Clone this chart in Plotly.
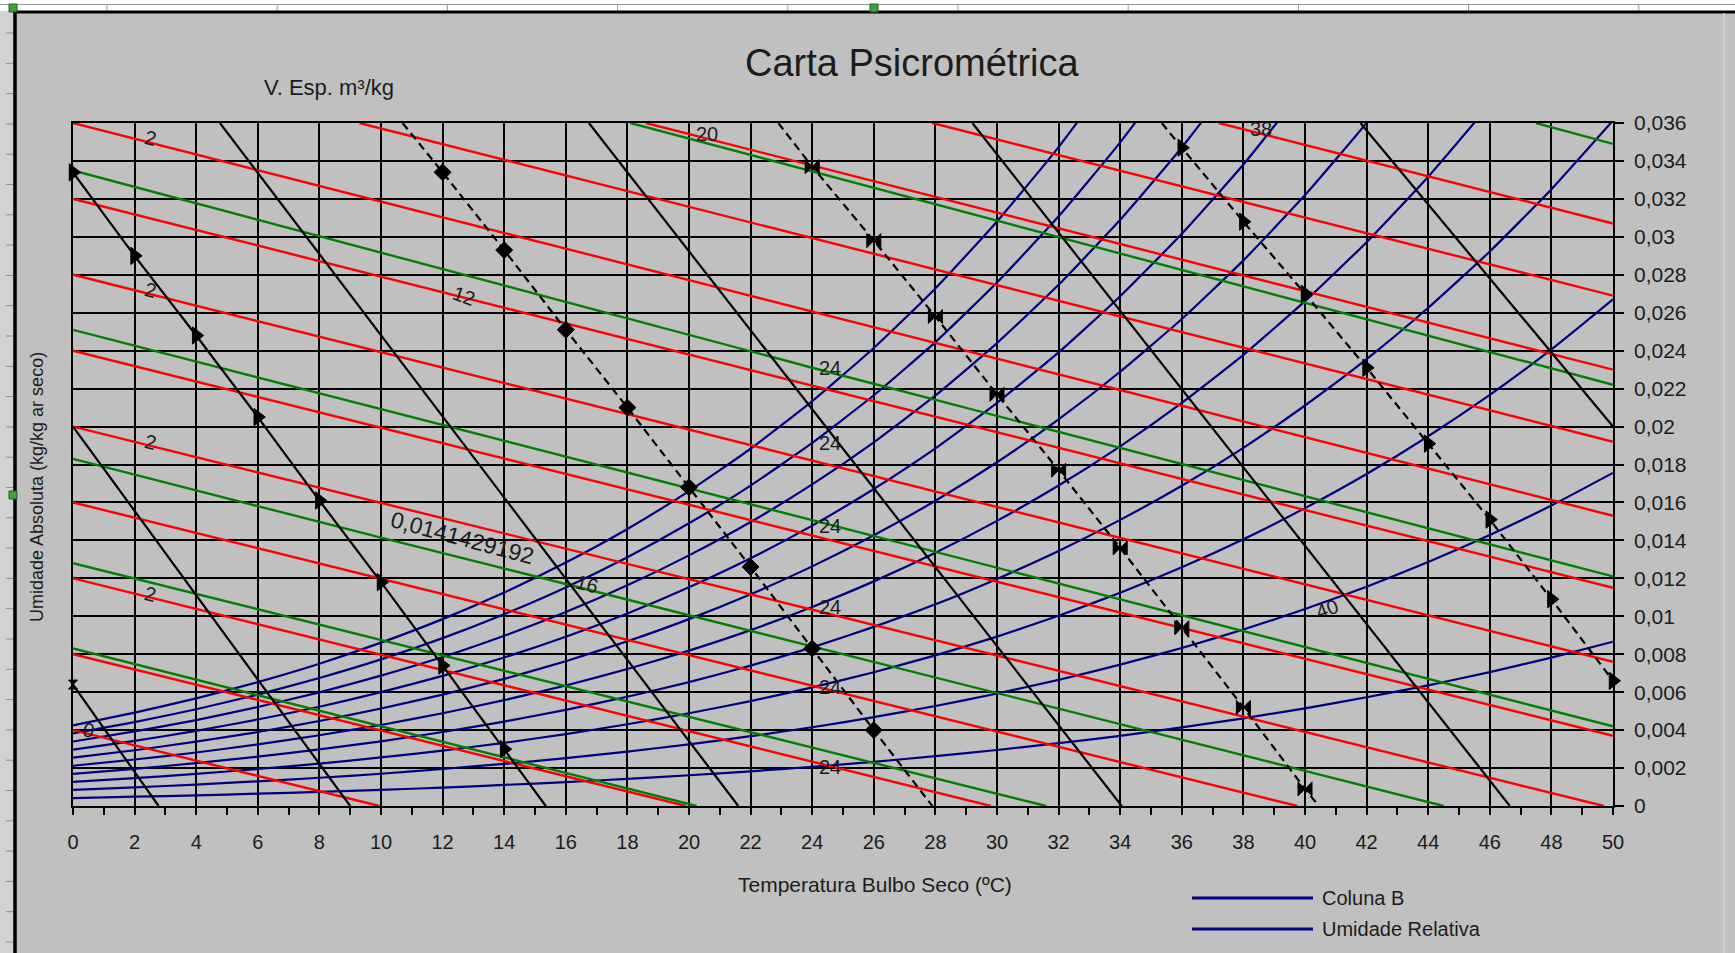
import plotly.graph_objects as go

# ---------------------------------------------------------------------------
# Psychrometric chart data (P = 90 kPa)
# ---------------------------------------------------------------------------
temp_c = [0, 2, 4, 6, 8, 10, 12, 14, 16, 18, 20, 22, 24, 26, 28, 30,
          32, 34, 36, 38, 40, 42, 44, 46, 48, 50]

# Absolute humidity (kg/kg dry air) along each relative-humidity curve
rh10_w = [0.00042, 0.00049, 0.00056, 0.00065, 0.00074, 0.00085, 0.00097, 0.00111, 0.00126,
          0.00143, 0.00162, 0.00183, 0.00207, 0.00233, 0.00263, 0.00295, 0.00331, 0.00370,
          0.00414, 0.00462, 0.00515, 0.00573, 0.00636, 0.00706, 0.00782, 0.00866]
rh20_w = [0.00085, 0.00098, 0.00113, 0.00130, 0.00149, 0.00170, 0.00195, 0.00222, 0.00252,
          0.00287, 0.00325, 0.00368, 0.00415, 0.00468, 0.00527, 0.00593, 0.00665, 0.00745,
          0.00833, 0.00930, 0.01038, 0.01156, 0.01286, 0.01428, 0.01584, 0.01756]
rh30_w = [0.00127, 0.00147, 0.00169, 0.00195, 0.00223, 0.00256, 0.00292, 0.00333, 0.00379,
          0.00431, 0.00489, 0.00553, 0.00625, 0.00705, 0.00794, 0.00893, 0.01003, 0.01124,
          0.01258, 0.01406, 0.01570, 0.01750, 0.01949, 0.02167, 0.02407, 0.02671]
rh40_w = [0.00169, 0.00196, 0.00226, 0.00260, 0.00298, 0.00341, 0.00390, 0.00445, 0.00507,
          0.00576, 0.00653, 0.00740, 0.00836, 0.00944, 0.01063, 0.01197, 0.01344, 0.01508,
          0.01688, 0.01888, 0.02111, 0.02355, 0.02626, 0.02923, 0.03251, 0.03613]
rh50_w = [0.00212, 0.00245, 0.00282, 0.00325, 0.00373, 0.00427, 0.00489, 0.00558, 0.00635,
          0.00722, 0.00819, 0.00927, 0.01049, 0.01184, 0.01335, 0.01503, 0.01689, 0.01896,
          0.02125, 0.02378, 0.02661, 0.02972, 0.03317, 0.03698]
rh60_w = [0.00255, 0.00294, 0.00339, 0.00390, 0.00448, 0.00514, 0.00587, 0.00670, 0.00763,
          0.00868, 0.00985, 0.01116, 0.01263, 0.01427, 0.01609, 0.01812, 0.02038, 0.02289,
          0.02567, 0.02876, 0.03220, 0.03601, 0.04024]
rh70_w = [0.00297, 0.00343, 0.00396, 0.00456, 0.00523, 0.00600, 0.00686, 0.00783, 0.00892,
          0.01015, 0.01153, 0.01306, 0.01478, 0.01671, 0.01885, 0.02125, 0.02391, 0.02687,
          0.03016, 0.03381, 0.03790]
rh80_w = [0.00340, 0.00393, 0.00453, 0.00522, 0.00599, 0.00687, 0.00785, 0.00897, 0.01022,
          0.01163, 0.01321, 0.01497, 0.01695, 0.01917, 0.02164, 0.02440, 0.02747, 0.03090,
          0.03471, 0.03895]
rh90_w = [0.00383, 0.00442, 0.00510, 0.00587, 0.00675, 0.00773, 0.00885, 0.01011, 0.01152,
          0.01311, 0.01490, 0.01689, 0.01914, 0.02165, 0.02445, 0.02759, 0.03108, 0.03498,
          0.03932]
rh100_w = [0.00425, 0.00492, 0.00567, 0.00653, 0.00750, 0.00861, 0.00985, 0.01125, 0.01283,
           0.01460, 0.01660, 0.01883, 0.02134, 0.02414, 0.02728, 0.03081, 0.03473, 0.03911]
rh_series = [("Coluna B", rh10_w), ("Umidade Relativa", rh20_w), ("UR 30%", rh30_w),
             ("UR 40%", rh40_w), ("UR 50%", rh50_w), ("UR 60%", rh60_w),
             ("UR 70%", rh70_w), ("UR 80%", rh80_w), ("UR 90%", rh90_w),
             ("UR 100%", rh100_w)]

# Enthalpy lines (kJ/kg): start and end points
enth_h = [10, 20, 30, 40, 50, 60, 70, 80, 90, 100, 110, 120, 130]
enth_x0 = [0, 0, 0, 0, 0, 0, 0, 0, 0, 9.3, 18.6, 27.9, 37.2]
enth_w0 = [0.004, 0.008, 0.012, 0.016, 0.020, 0.024, 0.028, 0.032, 0.036,
           0.036, 0.036, 0.036, 0.036]
enth_x1 = [9.95, 19.9, 29.8, 39.75, 49.7, 50, 50, 50, 50, 50, 50, 50, 50]
enth_w1 = [0, 0, 0, 0, 0, 0.0037, 0.0076, 0.0115, 0.0153, 0.0192, 0.0230, 0.0269, 0.0307]

# Wet-bulb lines (°C)
wb_t = [5, 10, 15, 20, 25, 30, 35]
wb_x = [[0, 20.25], [0, 31.6], [0, 10, 16, 44.5], [0, 50], [0, 24, 50], [18.1, 50], [47.5, 50]]
wb_w = [[0.0083, 0], [0.0128, 0], [0.0183, 0.0141429192, 0.0117, 0], [0.0251, 0.0042],
        [0.0335, 0.0231, 0.0121], [0.036, 0.0222], [0.036, 0.0349]]

# Specific-volume lines (m³/kg)
vol_088_x = [0, 2.78]
vol_088_w = [0.0064, 0]
vol_090_x = [0, 9.0]
vol_090_w = [0.0200, 0]
vol_092_x = [0, 2, 4, 6, 8, 10, 12, 14, 15.35]
vol_092_w = [0.0334, 0.0290, 0.0248, 0.0205, 0.0161, 0.0118, 0.0074, 0.0030, 0]
vol_094_x = [4.77, 21.6]
vol_094_w = [0.036, 0]
vol_096_x = [10.7, 12, 14, 16, 18, 20, 22, 24, 26, 27.9]
vol_096_w = [0.036, 0.0334, 0.0293, 0.0251, 0.0210, 0.0168, 0.0126, 0.0083, 0.0040, 0]
vol_098_x = [16.75, 34.05]
vol_098_w = [0.036, 0]
vol_100_x = [22.9, 24, 26, 28, 30, 32, 34, 36, 38, 40, 40.45]
vol_100_w = [0.036, 0.0337, 0.0298, 0.0258, 0.0217, 0.0177, 0.0136, 0.0094, 0.0052, 0.0009, 0]
vol_102_x = [29.2, 46.65]
vol_102_w = [0.036, 0]
vol_104_x = [35.35, 36, 38, 40, 42, 44, 46, 48, 50]
vol_104_w = [0.036, 0.0347, 0.0308, 0.0270, 0.0231, 0.0191, 0.0151, 0.0109, 0.0066]
vol_106_x = [41.8, 50]
vol_106_w = [0.036, 0.0200]

# Data labels shown on the lines
lbl_text = ["0", "2", "2", "2", "2", "12", "20", "38", "0,0141429192", "16",
            "24", "24", "24", "24", "24", "24", "40"]
lbl_x = [0, 2, 2, 2, 2, 12, 20, 38, 10, 16, 24, 24, 24, 24, 24, 24, 40]
lbl_y = [0.0040, 0.0352, 0.0272, 0.0192, 0.0112, 0.0269, 0.0354, 0.0357, 0.0141429192,
         0.0117, 0.0231, 0.01914, 0.01478, 0.01049, 0.00625, 0.00207, 0.01038]
lbl_angle = [14, 14, 14, 14, 14, 20, 0, 0, 15, 15, 0, 0, 0, 0, 0, 0, -20]

y_tick_vals = [0, 0.002, 0.004, 0.006, 0.008, 0.010, 0.012, 0.014, 0.016, 0.018,
               0.020, 0.022, 0.024, 0.026, 0.028, 0.030, 0.032, 0.034, 0.036]
y_tick_text = ["0", "0,002", "0,004", "0,006", "0,008", "0,01", "0,012", "0,014", "0,016",
               "0,018", "0,02", "0,022", "0,024", "0,026", "0,028", "0,03", "0,032",
               "0,034", "0,036"]

legend_items = ["Coluna B", "Umidade Relativa"]

# ---------------------------------------------------------------------------
W, H = 1735, 953
PL, PR, PT, PB = 73, 1613, 123, 806
FONT = "Liberation Sans, Arial, sans-serif"
NAVY, RED, GREEN, GRAY = "#000080", "#FF0000", "#008000", "#C0C0C0"
TXT = "#1c1c1c"


def px(x):
    return (x - PL) / (PR - PL)


def py(y):
    return (PB - y) / (PB - PT)


fig = go.Figure()

for name, w in rh_series:
    fig.add_trace(go.Scatter(x=temp_c[:len(w)], y=w, mode="lines", name=name,
                             line=dict(color=NAVY, width=2.2, shape="spline", smoothing=0.5),
                             showlegend=False, hoverinfo="skip"))

for i in range(len(enth_h)):
    fig.add_trace(go.Scatter(x=[enth_x0[i], enth_x1[i]], y=[enth_w0[i], enth_w1[i]],
                             mode="lines", line=dict(color=RED, width=2.4),
                             name=f"h {enth_h[i]}", showlegend=False, hoverinfo="skip"))

for i in range(len(wb_t)):
    fig.add_trace(go.Scatter(x=wb_x[i], y=wb_w[i], mode="lines",
                             line=dict(color=GREEN, width=2.4),
                             name=f"TBU {wb_t[i]}", showlegend=False, hoverinfo="skip"))

solid_vol = [(vol_088_x, vol_088_w), (vol_090_x, vol_090_w), (vol_092_x, vol_092_w),
             (vol_094_x, vol_094_w), (vol_098_x, vol_098_w), (vol_102_x, vol_102_w),
             (vol_106_x, vol_106_w)]
for vx, vw in solid_vol:
    fig.add_trace(go.Scatter(x=vx, y=vw, mode="lines", line=dict(color="black", width=2.2),
                             showlegend=False, hoverinfo="skip"))
for vx, vw in [(vol_096_x, vol_096_w), (vol_100_x, vol_100_w), (vol_104_x, vol_104_w)]:
    fig.add_trace(go.Scatter(x=vx, y=vw, mode="lines",
                             line=dict(color="black", width=2.2, dash="8px,5px"),
                             showlegend=False, hoverinfo="skip"))

# markers sitting on the specific-volume lines
marker_sets = [
    (vol_088_x[:1], vol_088_w[:1], "hourglass", 9),
    (vol_092_x[:-1], vol_092_w[:-1], "triangle-right", 15),
    (vol_096_x[1:-1], vol_096_w[1:-1], "diamond", 13),
    (vol_100_x[1:-1], vol_100_w[1:-1], "bowtie", 14),
    (vol_104_x[1:], vol_104_w[1:], "triangle-right", 15),
]
for mx, mw, sym, size in marker_sets:
    fig.add_trace(go.Scatter(x=mx, y=mw, mode="markers", cliponaxis=False,
                             marker=dict(symbol=sym, size=size, color="black",
                                         line=dict(color="black", width=1)),
                             showlegend=False, hoverinfo="skip"))

for t, x, y, a in zip(lbl_text, lbl_x, lbl_y, lbl_angle):
    fig.add_annotation(x=x, y=y, text=t, textangle=a, xanchor="left", yanchor="middle",
                       xshift=5, showarrow=False,
                       font=dict(family=FONT, size=23 if len(t) > 4 else 20, color=TXT))


def label(x, y, text, size, angle=0, xanchor="center"):
    fig.add_annotation(x=px(x), y=py(y), xref="paper", yref="paper", text=text,
                       textangle=angle, xanchor=xanchor, yanchor="middle", showarrow=False,
                       font=dict(family=FONT, size=size, color=TXT))


label(912, 63, "Carta Psicrométrica", 38)
label(329, 87, "V. Esp. m³/kg", 22)
label(875, 884, "Temperatura Bulbo Seco (ºC)", 21)
label(37, 487, "Umidade Absoluta (kg/kg ar seco)", 18, angle=-90)

shapes = []
# legend
for k, name in enumerate(legend_items):
    ly = 898 + 31 * k
    shapes.append(dict(type="line", xref="paper", yref="paper", x0=px(1192), x1=px(1313),
                       y0=py(ly), y1=py(ly), line=dict(color=NAVY, width=3)))
    label(1320, ly, name, 20, xanchor="left")

# worksheet surroundings
shapes.append(dict(type="rect", xref="paper", yref="paper", x0=px(0), x1=px(W),
                   y0=py(0), y1=py(11), fillcolor="white", line=dict(width=0), layer="above"))
shapes.append(dict(type="line", xref="paper", yref="paper", x0=px(0), x1=px(W),
                   y0=py(4.5), y1=py(4.5), line=dict(color="#9a9a9a", width=1)))
cx = 107.0
while cx < W:
    shapes.append(dict(type="line", xref="paper", yref="paper", x0=px(cx), x1=px(cx),
                       y0=py(4.5), y1=py(11), line=dict(color="#9a9a9a", width=1)))
    cx += 170.2
shapes.append(dict(type="rect", xref="paper", yref="paper", x0=px(0), x1=px(13),
                   y0=py(11), y1=py(H), fillcolor="#d2d2d2", line=dict(width=0)))
ry = 33.0
while ry < H:
    shapes.append(dict(type="line", xref="paper", yref="paper", x0=px(6), x1=px(13),
                       y0=py(ry), y1=py(ry), line=dict(color="#8a8a8a", width=1)))
    ry += 30.3
shapes.append(dict(type="line", xref="paper", yref="paper", x0=px(13), x1=px(W),
                   y0=py(12), y1=py(12), line=dict(color="black", width=3)))
shapes.append(dict(type="line", xref="paper", yref="paper", x0=px(15), x1=px(15),
                   y0=py(11), y1=py(H), line=dict(color="black", width=3.5)))
shapes.append(dict(type="line", xref="paper", yref="paper", x0=px(1724), x1=px(1724),
                   y0=py(13), y1=py(H), line=dict(color="#d6d6d6", width=1.5)))
for hx, hy in [(13, 8), (874, 8), (13, 495)]:
    shapes.append(dict(type="rect", xref="paper", yref="paper", x0=px(hx - 4), x1=px(hx + 4),
                       y0=py(hy - 4), y1=py(hy + 4), fillcolor="#3fa03f",
                       line=dict(color="#1f5f1f", width=1)))

fig.update_layout(
    width=W, height=H, autosize=False,
    margin=dict(l=PL, r=W - PR, t=PT, b=H - PB, pad=0),
    paper_bgcolor=GRAY, plot_bgcolor=GRAY,
    showlegend=False, hovermode=False,
    font=dict(family=FONT, color=TXT),
    shapes=shapes,
    xaxis=dict(range=[0, 50], tickmode="linear", tick0=0, dtick=2,
               ticks="outside", ticklen=7, tickwidth=1.5, tickcolor="black",
               minor=dict(dtick=1, ticks="outside", ticklen=7, tickwidth=1.5,
                          tickcolor="black", showgrid=False),
               showgrid=True, gridcolor="black", gridwidth=1.6, zeroline=False,
               showline=True, mirror=True, linecolor="black", linewidth=1.6,
               tickfont=dict(family=FONT, size=20, color=TXT),
               ticklabelstandoff=10, automargin=False),
    yaxis=dict(range=[0, 0.036], side="right", tickmode="array",
               tickvals=y_tick_vals, ticktext=y_tick_text,
               ticks="outside", ticklen=9, tickwidth=1.5, tickcolor="black",
               showgrid=True, gridcolor="black", gridwidth=1.6, zeroline=False,
               showline=True, mirror=True, linecolor="black", linewidth=1.6,
               tickfont=dict(family=FONT, size=21, color=TXT),
               ticklabelstandoff=6, automargin=False),
)

fig.write_html("out.html", config={"displayModeBar": False})
